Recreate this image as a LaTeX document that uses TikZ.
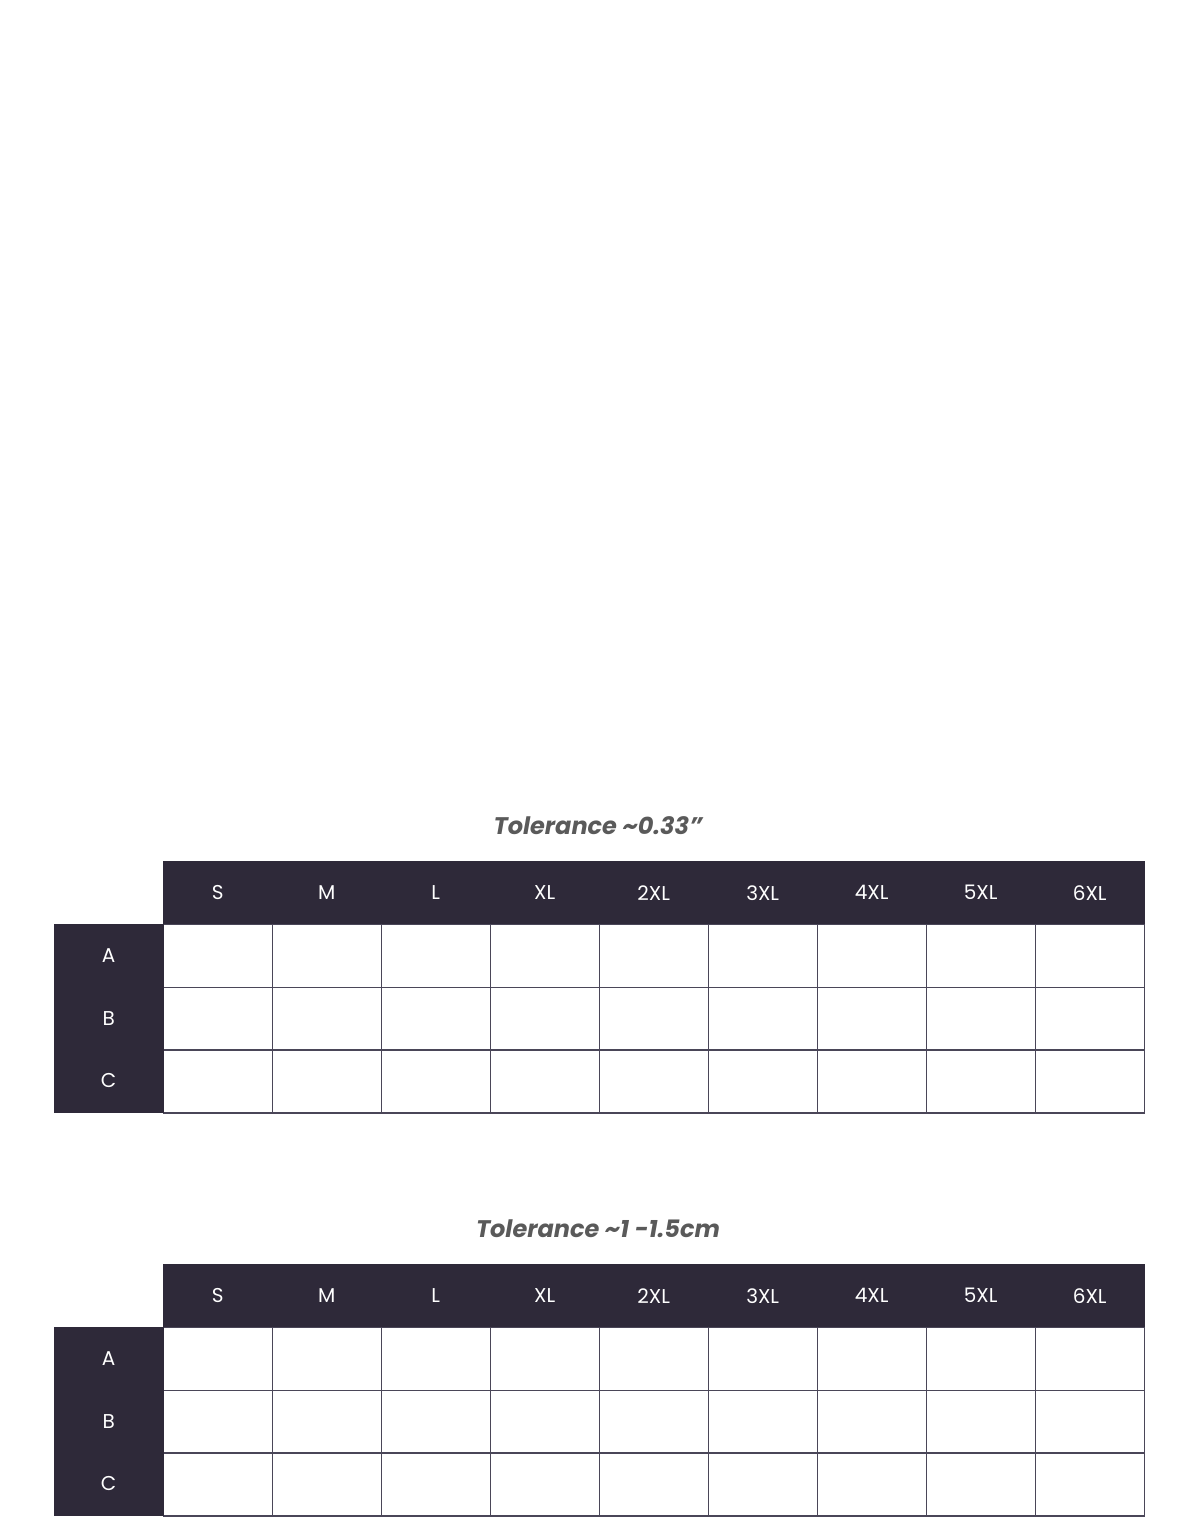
\documentclass[tikz,border=0pt]{standalone}
\usepackage{fontspec}
\setmainfont{Poppins}
\definecolor{dark}{HTML}{2E2939}
\definecolor{grid}{HTML}{4A4658}
\definecolor{ttl}{HTML}{5A5A5A}
\begin{document}
\begin{tikzpicture}[x=1pt,y=-1pt,
  hdr/.style={fill=dark,draw=dark,minimum width=109pt,minimum height=63pt,inner sep=0,text=white,font=\fontsize{20}{24}\selectfont,anchor=north west},
  rh/.style={fill=dark,draw=dark,minimum width=109pt,minimum height=63pt,inner sep=0,text=white,font=\fontsize{20}{24}\selectfont,anchor=north west},
  cell/.style={draw=grid,line width=1.2pt,minimum width=109pt,minimum height=63pt,inner sep=0,anchor=north west},
  ttl/.style={text=ttl,font=\fontsize{24}{28}\selectfont\bfseries\itshape}]
\useasboundingbox (0,0) rectangle (1200,1537);
\foreach \t/\y/\txt in {1/861/{Tolerance \textasciitilde0.33”},2/1264/{Tolerance \textasciitilde1 -1.5cm}}{
  \node[ttl] (title\t) at (598,\y-35) {\txt};
  \foreach \s [count=\i from 0] in {S,M,L,XL,2XL,3XL,4XL,5XL,6XL}{
    \node[hdr] (h\t-\i) at (163+\i*109,\y) {\s};
    \foreach \r [count=\j from 0] in {A,B,C}{
      \node[cell] (c\t-\i-\j) at (163+\i*109,\y+63+\j*62.7) {};
    }
  }
  \foreach \r [count=\j from 0] in {A,B,C}{
    \node[rh,minimum height=62.7pt] (r\t-\j) at (54,\y+63+\j*62.7) {\r};
  }
}
\end{tikzpicture}
\end{document}
